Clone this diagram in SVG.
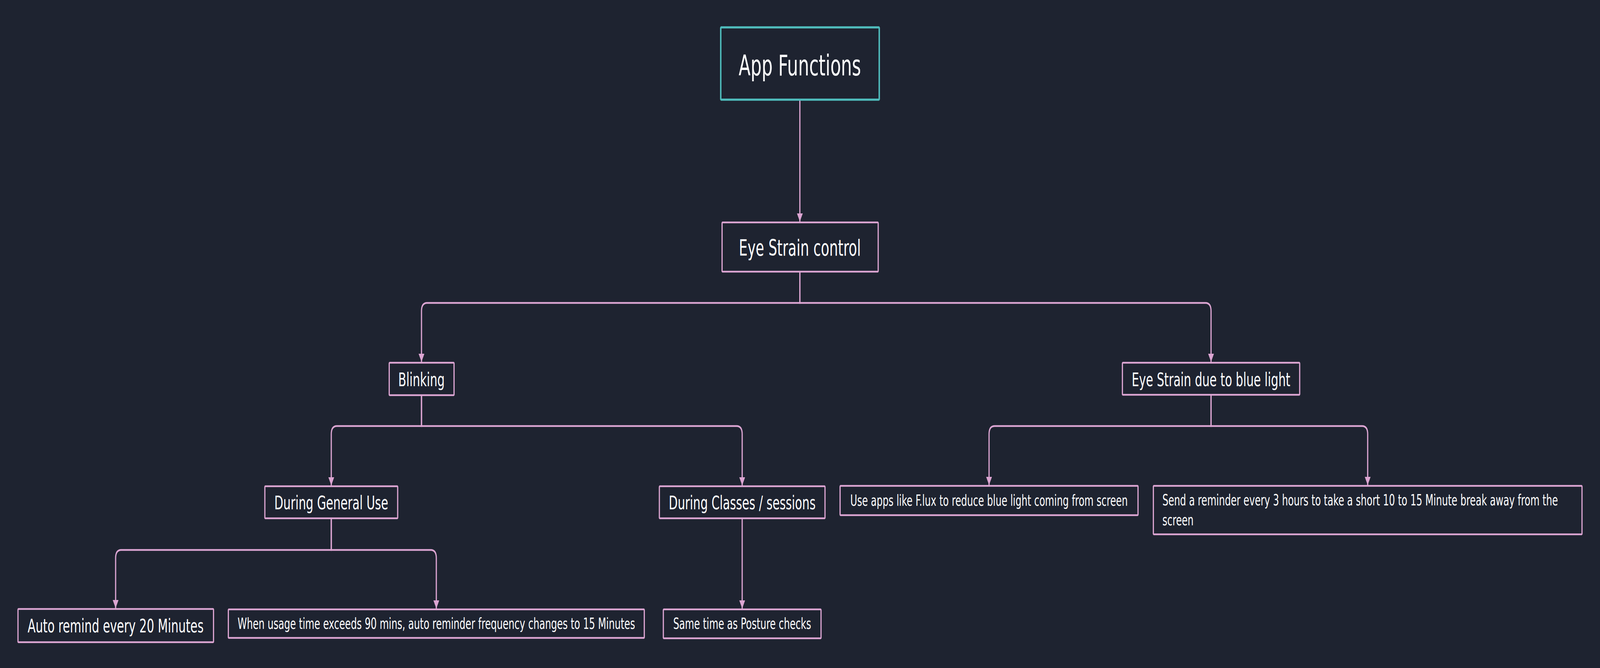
<svg xmlns="http://www.w3.org/2000/svg" width="6047" height="1709" viewBox="0 0 6047 1709" preserveAspectRatio="none">
<style>
  svg:root { width: 100vw; height: 100vh; }
  .bg { fill: #1e2330; }
  .node rect { fill: #1e2330; stroke: #dca5d2; stroke-width: 4.5; }
  .node.root rect { stroke: #4fbcbc; stroke-width: 5.5; }
  .node text { fill: #ffffff; font-family: 'DejaVu Sans Condensed', 'DejaVu Sans', sans-serif; font-stretch: condensed; text-anchor: middle; }
  .xl { font-size: 73px; }
  .l { font-size: 57.6px; }
  .m { font-size: 48.8px; }
  .s { font-size: 39.5px; }
  .node text.left { text-anchor: start; }
  .edges path { fill: none; stroke: #dca5d2; stroke-width: 4.5; marker-end: url(#arrow); }
</style>
<defs>
  <marker id="arrow" markerUnits="userSpaceOnUse" markerWidth="22" markerHeight="24" refX="21" refY="11" orient="auto">
    <path d="M0,0 L21,11 L0,22 z" fill="#dca5d2"/>
  </marker>
</defs>
<rect class="bg" x="0" y="0" width="6047" height="1709"/>

<g class="edges">
  <path d="M3023,255 L3023,567"/>
  <path d="M3023,695 L3023,775 L1614,775 Q1593,775 1593,796 L1593,926"/>
  <path d="M3023,695 L3023,775 L4556,775 Q4577,775 4577,796 L4577,926"/>
  <path d="M1593,1011 L1593,1090 L1273,1090 Q1252,1090 1252,1111 L1252,1242"/>
  <path d="M1593,1011 L1593,1090 L2784,1090 Q2805,1090 2805,1111 L2805,1242"/>
  <path d="M4577,1010 L4577,1090 L3759,1090 Q3738,1090 3738,1111 L3738,1241"/>
  <path d="M4577,1010 L4577,1090 L5148,1090 Q5169,1090 5169,1111 L5169,1241"/>
  <path d="M1252,1326 L1252,1407 L458,1407 Q437,1407 437,1428 L437,1556"/>
  <path d="M1252,1326 L1252,1407 L1628,1407 Q1649,1407 1649,1428 L1649,1557"/>
  <path d="M2805,1326 L2805,1557"/>
</g>

<g id="app-functions" class="node root">
  <rect x="2724" y="70" width="599" height="185" rx="2"/>
  <text class="xl" x="3023" y="193">App Functions</text>
</g>
<g id="eye-strain-control" class="node">
  <rect x="2729" y="569" width="590" height="126" rx="2"/>
  <text class="l" x="3023" y="654">Eye Strain control</text>
</g>
<g id="blinking" class="node">
  <rect x="1471" y="928" width="245" height="83" rx="2"/>
  <text class="m" x="1593" y="988">Blinking</text>
</g>
<g id="blue-light" class="node">
  <rect x="4242" y="928" width="670" height="82" rx="2"/>
  <text class="m" x="4577" y="988">Eye Strain due to blue light</text>
</g>
<g id="general-use" class="node">
  <rect x="1001" y="1244" width="502" height="82" rx="2"/>
  <text class="m" x="1252" y="1303">During General Use</text>
</g>
<g id="classes" class="node">
  <rect x="2492" y="1244" width="626" height="82" rx="2"/>
  <text class="m" x="2805" y="1303">During Classes / sessions</text>
</g>
<g id="flux" class="node">
  <rect x="3175" y="1243" width="1126" height="75" rx="2"/>
  <text class="s" x="3738" y="1294">Use apps like F.lux to reduce blue light coming from screen</text>
</g>
<g id="break-reminder" class="node">
  <rect x="4359" y="1243" width="1620" height="124" rx="2"/>
  <text class="s left" x="4393" y="1293">Send a reminder every 3 hours to take a short 10 to 15 Minute break away from the</text>
  <text class="s left" x="4393" y="1344">screen</text>
</g>
<g id="auto-remind" class="node">
  <rect x="68" y="1558" width="739" height="85" rx="2"/>
  <text class="m" x="437" y="1618">Auto remind every 20 Minutes</text>
</g>
<g id="usage-90" class="node">
  <rect x="863" y="1559" width="1572" height="73" rx="2"/>
  <text class="s" x="1649" y="1609">When usage time exceeds 90 mins, auto reminder frequency changes to 15 Minutes</text>
</g>
<g id="posture" class="node">
  <rect x="2507" y="1559" width="596" height="74" rx="2"/>
  <text class="s" x="2805" y="1609">Same time as Posture checks</text>
</g>
</svg>
